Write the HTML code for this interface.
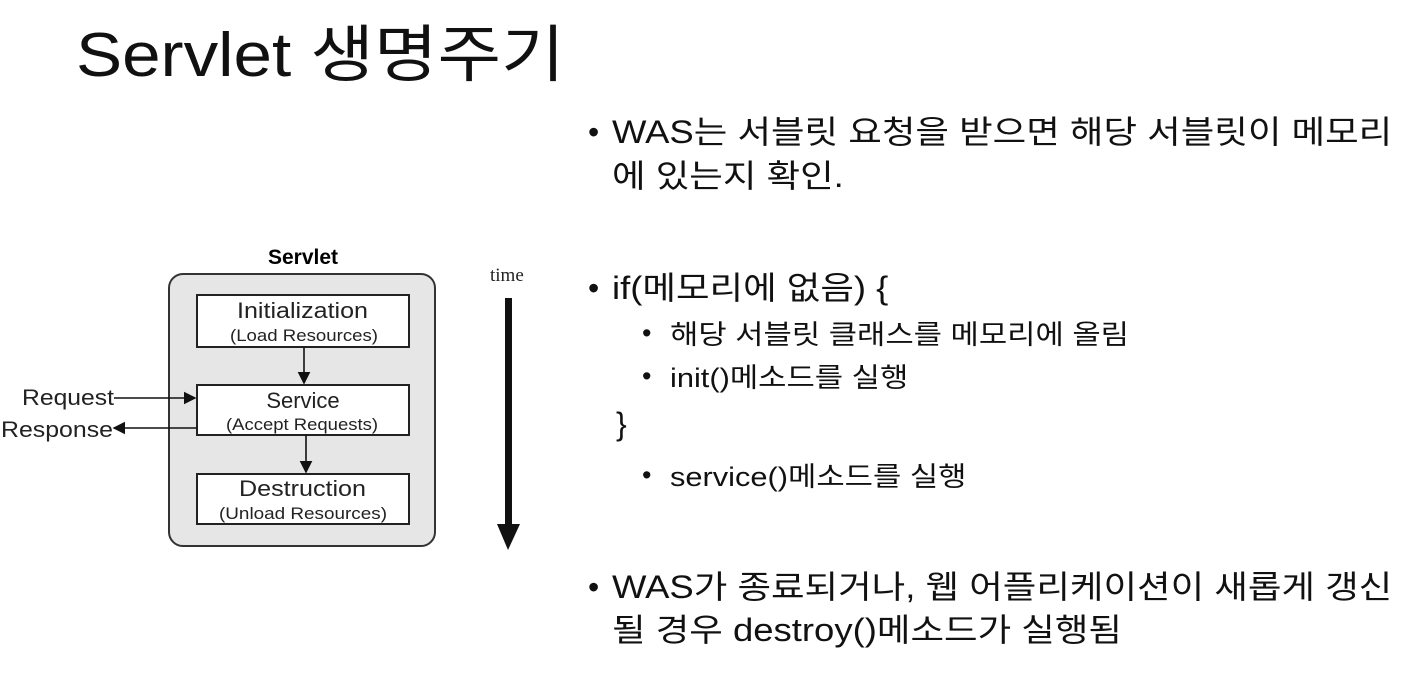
<!DOCTYPE html>
<html><head><meta charset="utf-8"><style>
body{margin:0;width:1410px;height:692px;background:#fff;position:relative;overflow:hidden;font-family:"Liberation Sans","Noto Sans CJK KR",sans-serif;color:#111}
.t{position:absolute;white-space:nowrap;transform-origin:0 0}
.b1{font-size:32px;line-height:44px;transform:scaleX(1.14)}
.b2{font-size:27px;transform:scaleX(1.14)}
.d1{position:absolute;left:588px;font-size:32px}
.d2{position:absolute;left:642px;font-size:27px}
</style></head><body>
<div class="t" style="left:76px;top:4px;font-size:62px;transform:scaleX(1.115);">Servlet 생명주기</div>

<svg width="560" height="600" style="position:absolute;left:0;top:0" font-family="Liberation Sans, sans-serif">
<defs><marker id="a" markerWidth="8" markerHeight="8" refX="7" refY="4" orient="auto"><path d="M0,0L8,4L0,8z" fill="#111"/></marker></defs>
<text x="303" y="264" font-size="21" font-weight="bold" text-anchor="middle">Servlet</text>
<rect x="169" y="274" width="266" height="272" rx="14" fill="#e6e6e6" stroke="#333" stroke-width="2"/>
<rect x="197" y="295" width="212" height="52" fill="#fff" stroke="#222" stroke-width="2"/>
<text x="237" y="318" font-size="22" textLength="131" lengthAdjust="spacingAndGlyphs" fill="#222">Initialization</text>
<text x="230" y="341" font-size="17" textLength="148" lengthAdjust="spacingAndGlyphs" fill="#222">(Load Resources)</text>
<rect x="197" y="385" width="212" height="50" fill="#fff" stroke="#222" stroke-width="2"/>
<text x="303" y="408" font-size="22" text-anchor="middle" fill="#222">Service</text>
<text x="226" y="430" font-size="17" textLength="152" lengthAdjust="spacingAndGlyphs" fill="#222">(Accept Requests)</text>
<rect x="197" y="474" width="212" height="50" fill="#fff" stroke="#222" stroke-width="2"/>
<text x="239" y="496" font-size="22" textLength="127" lengthAdjust="spacingAndGlyphs" fill="#222">Destruction</text>
<text x="219" y="519" font-size="17" textLength="168" lengthAdjust="spacingAndGlyphs" fill="#222">(Unload Resources)</text>
<line x1="304" y1="347" x2="304" y2="383" stroke="#111" stroke-width="1.6" marker-end="url(#a)"/>
<line x1="306" y1="435" x2="306" y2="472" stroke="#111" stroke-width="1.6" marker-end="url(#a)"/>
<text x="22" y="405" font-size="22" textLength="92" lengthAdjust="spacingAndGlyphs" fill="#222">Request</text>
<line x1="114" y1="398" x2="195" y2="398" stroke="#111" stroke-width="1.6" marker-end="url(#a)"/>
<text x="1" y="437" font-size="22" textLength="112" lengthAdjust="spacingAndGlyphs" fill="#222">Response</text>
<line x1="197" y1="428" x2="114" y2="428" stroke="#111" stroke-width="1.6" marker-end="url(#a)"/>
<text x="490" y="281" font-size="19" font-family="Liberation Serif, serif" fill="#222">time</text>
<rect x="505" y="298" width="7" height="226" fill="#111"/>
<path d="M497,524L520,524L508,550z" fill="#111"/>
</svg>

<div class="d1" style="top:110px;line-height:44px">•</div>
<div class="t b1" style="left:612px;top:110px;">WAS는 서블릿 요청을 받으면 해당 서블릿이 메모리<br>에 있는지 확인.</div>
<div class="d1" style="top:266px;line-height:44px">•</div>
<div class="t b1" style="left:612px;top:266px;">if(메모리에 없음) {</div>
<div class="d2" style="top:318px;">•</div>
<div class="t b2" style="left:670px;top:313px;">해당 서블릿 클래스를 메모리에 올림</div>
<div class="d2" style="top:361px;">•</div>
<div class="t b2" style="left:670px;top:356px;">init()메소드를 실행</div>
<div class="t" style="left:616px;top:406px;font-size:32px;">}</div>
<div class="d2" style="top:460px;">•</div>
<div class="t b2" style="left:670px;top:455px;">service()메소드를 실행</div>
<div class="d1" style="top:566px;line-height:43px">•</div>
<div class="t b1" style="left:612px;top:566px;line-height:43px;">WAS가 종료되거나, 웹 어플리케이션이 새롭게 갱신<br>될 경우 destroy()메소드가 실행됨</div>
</body></html>
